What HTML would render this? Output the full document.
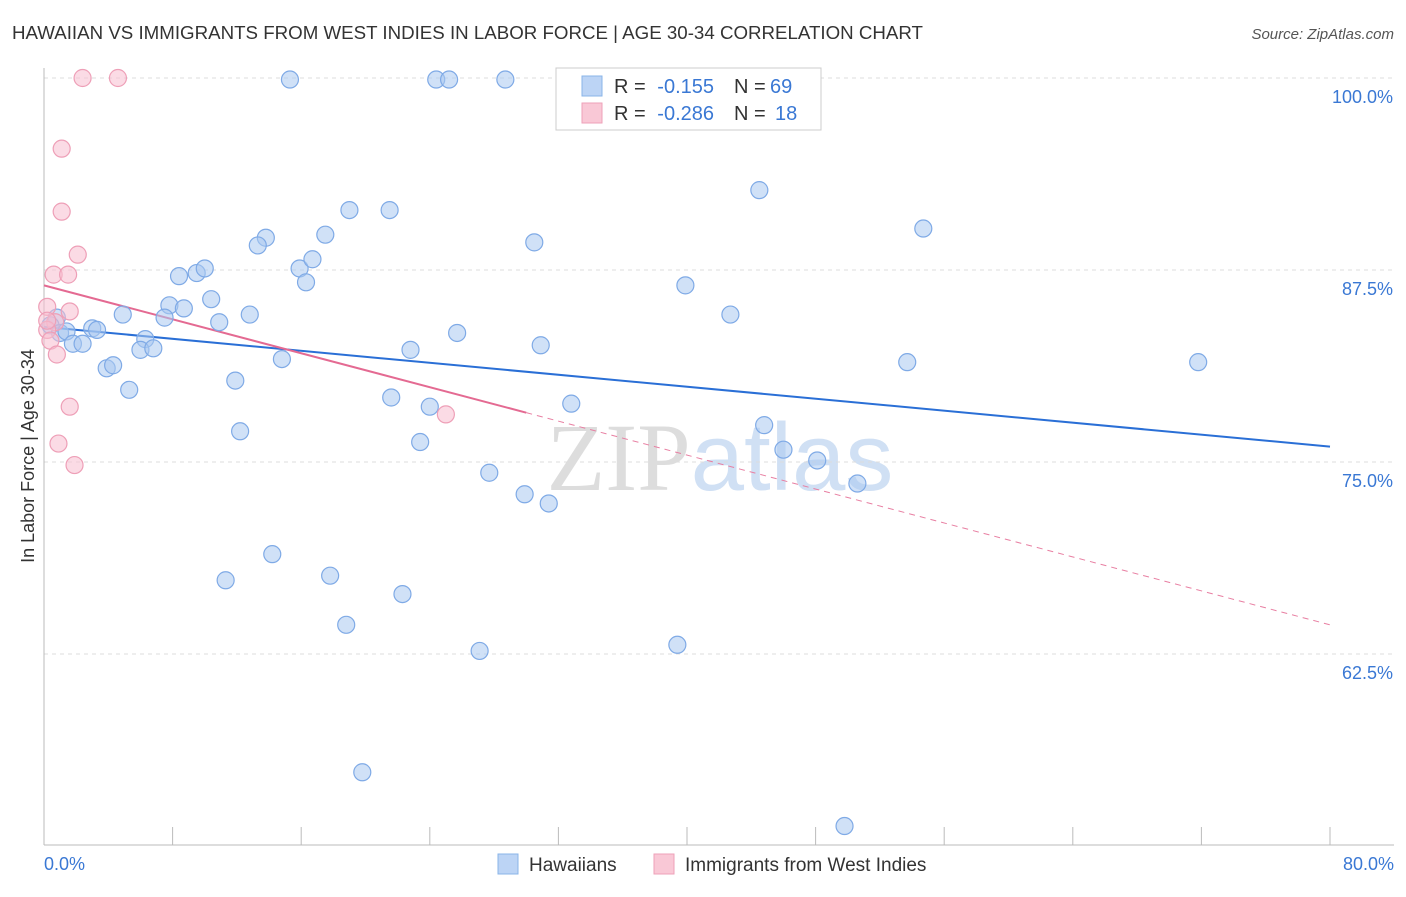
<!DOCTYPE html>
<html><head><meta charset="utf-8"><style>
body{margin:0;background:#fff;font-family:"Liberation Sans",sans-serif}
</style></head><body>
<svg id="chart" width="1406" height="892" xmlns="http://www.w3.org/2000/svg" font-family="Liberation Sans, sans-serif">
<text x="12" y="39" font-size="18" fill="#333" textLength="911" lengthAdjust="spacingAndGlyphs">HAWAIIAN VS IMMIGRANTS FROM WEST INDIES IN LABOR FORCE | AGE 30-34 CORRELATION CHART</text>
<text x="1394" y="39" font-size="15" fill="#555" text-anchor="end" font-style="italic">Source: ZipAtlas.com</text>
<text x="720" y="490" font-size="96" text-anchor="middle"><tspan fill="#ddd" font-family="Liberation Serif, serif">ZIP</tspan><tspan fill="#d0e0f4">atlas</tspan></text>
<text transform="translate(34,456) rotate(-90)" font-size="18" fill="#333" text-anchor="middle">In Labor Force | Age 30-34</text>
<g id="grid"></g><g id="lines"></g><g id="pts"></g>
<g>
<rect x="556" y="68" width="265" height="62" fill="#fff" stroke="#ccc"/>
<rect x="582" y="76" width="20" height="20" fill="#bcd4f5" stroke="#8ab4e8"/>
<text x="614" y="93" font-size="20" fill="#333">R =</text>
<text x="714" y="93" font-size="20" fill="#3a78d4" text-anchor="end">-0.155</text>
<text x="734" y="93" font-size="20" fill="#333">N =</text>
<text x="770" y="93" font-size="20" fill="#3a78d4">69</text>
<rect x="582" y="103" width="20" height="20" fill="#f9c8d6" stroke="#eea1b8"/>
<text x="614" y="120" font-size="20" fill="#333">R =</text>
<text x="714" y="120" font-size="20" fill="#3a78d4" text-anchor="end">-0.286</text>
<text x="734" y="120" font-size="20" fill="#333">N =</text>
<text x="775" y="120" font-size="20" fill="#3a78d4">18</text>
</g>
<g>
<rect x="498" y="854" width="20" height="20" fill="#bcd4f5" stroke="#8ab4e8"/>
<text x="529" y="871" font-size="19" fill="#333">Hawaiians</text>
<rect x="654" y="854" width="20" height="20" fill="#f9c8d6" stroke="#eea1b8"/>
<text x="685" y="871" font-size="19" fill="#333">Immigrants from West Indies</text>
</g>
</svg>
<script>
const yTicks=[100,87.5,75,62.5];
const xTickLabels=["0.0%","80.0%"];
const blueX=[15.3,24.4,25.2,28.7,33.3,44.5,54.7,19.0,21.5,13.8,13.3,17.5,30.5,8.4,9.5,10.0,15.9,16.7,16.3,39.9,10.4,7.8,8.7,4.9,7.5,12.8,10.9,42.7,0.8,0.4,1.0,1.4,3.0,3.3,1.8,2.4,6.3,6.0,6.8,25.7,30.9,22.8,14.8,53.7,71.8,3.9,4.3,11.9,5.3,21.6,24.0,32.8,12.2,44.8,23.4,46.0,48.1,27.7,50.6,29.9,31.4,14.2,11.3,17.8,22.3,18.8,27.1,39.4,19.8,49.8];
const blueY=[99.9,99.9,99.9,99.9,99.9,92.7,90.2,91.4,91.4,89.6,89.1,89.8,89.3,87.1,87.3,87.6,87.6,88.2,86.7,86.5,85.6,85.2,85.0,84.6,84.4,84.6,84.1,84.6,84.4,83.9,83.4,83.5,83.7,83.6,82.7,82.7,83.0,82.3,82.4,83.4,82.6,82.3,81.7,81.5,81.5,81.1,81.3,80.3,79.7,79.2,78.6,78.8,77.0,77.4,76.3,75.8,75.1,74.3,73.6,72.9,72.3,69.0,67.3,67.6,66.4,64.4,62.7,63.1,54.8,51.3];
const pinkX=[2.4,4.6,1.1,1.1,2.1,0.6,1.5,0.2,1.6,0.7,0.2,0.4,0.8,1.6,25.0,0.9,1.9,0.2];
const pinkY=[100,100,95.4,91.3,88.5,87.2,87.2,85.1,84.8,84.1,83.6,82.9,82.0,78.6,78.1,76.2,74.8,84.2];
const blueTrend=[83.8,76.0];
const pinkTrend=[86.5,64.4];
const pinkSolidEnd=30;
const X=v=>44+v/80*1286, Y=v=>78+(100-v)/12.5*192;
const NS="http://www.w3.org/2000/svg";
function mk(p,t,a){const e=document.createElementNS(NS,t);for(const k in a)e.setAttribute(k,a[k]);p.appendChild(e);return e;}
const g=document.getElementById('grid');
yTicks.forEach(t=>{
 const l=mk(g,'line',{x1:44,x2:1394,y1:Y(t),y2:Y(t),stroke:'#ddd','stroke-dasharray':'4,4'});
 
 
 const tx=mk(g,'text',{x:1393,y:Y(t)+25,'font-size':18,fill:'#3a78d4','text-anchor':'end'});
 tx.textContent=t.toFixed(1)+'%';
 
 
});
const ax=mk(g,'line',{x1:44,x2:1394,y1:845,y2:845,stroke:'#bbb'});


const ay=mk(g,'line',{x1:44,x2:44,y1:68,y2:845,stroke:'#bbb'});


for(let i=0;i<=10;i++){const tk=mk(g,'line',{x1:X(i*8),x2:X(i*8),y1:827,y2:845,stroke:'#bbb'});
 
 }
[[0,'start',44],[80,'end',1394]].forEach((d,i)=>{const t=mk(g,'text',{x:d[2],y:870,'font-size':18,fill:'#3a78d4','text-anchor':d[1]});t.textContent=xTickLabels[i];
 
 });
const p=document.getElementById('pts');
function dots(xs,ys,fill,stroke,name){xs.forEach((x,i)=>{const c=mk(p,'circle',{cx:X(x),cy:Y(ys[i]),r:8.5,fill:fill,stroke:stroke,'stroke-width':1.2});
 
 });}
dots(blueX,blueY,'rgba(170,200,240,0.55)','#7faae6','hawaiian-point');
dots(pinkX,pinkY,'rgba(248,190,208,0.55)','#ee9fb7','west-indies-point');
const L=document.getElementById('lines');
const bl=mk(L,'line',{x1:X(0),y1:Y(blueTrend[0]),x2:X(80),y2:Y(blueTrend[1]),stroke:'#2a6fd6','stroke-width':2});


const pm=pinkTrend[0]+(pinkTrend[1]-pinkTrend[0])*pinkSolidEnd/80;
const pl=mk(L,'line',{x1:X(0),y1:Y(pinkTrend[0]),x2:X(pinkSolidEnd),y2:Y(pm),stroke:'#e46a92','stroke-width':2});


const pd=mk(L,'line',{x1:X(pinkSolidEnd),y1:Y(pm),x2:X(80),y2:Y(pinkTrend[1]),stroke:'#e87fa2','stroke-width':1,'stroke-dasharray':'6,5'});


</script>
</body></html>
